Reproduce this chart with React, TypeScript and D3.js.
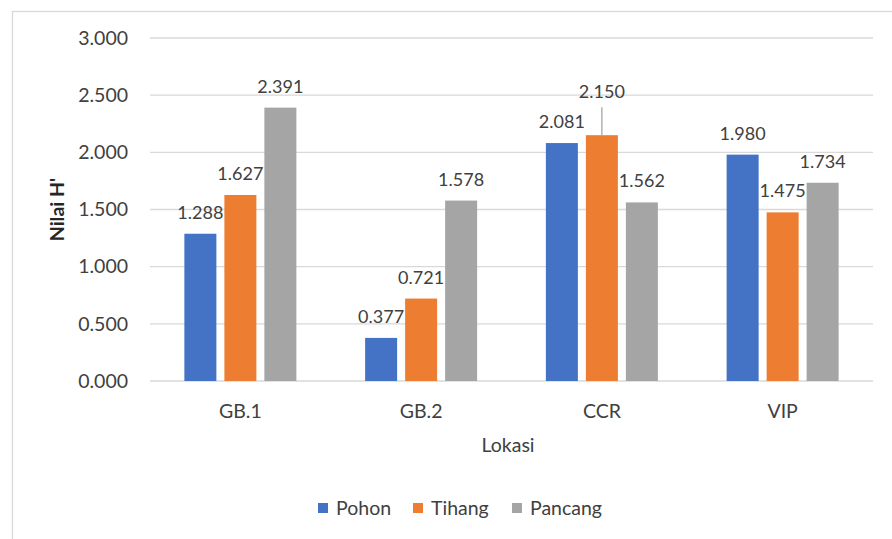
import React from "react";
import * as d3 from "d3";

const categories = ["GB.1", "GB.2", "CCR", "VIP"];
const seriesNames = ["Pohon", "Tihang", "Pancang"];
const pohon = [1.288, 0.377, 2.081, 1.98];
const tihang = [1.627, 0.721, 2.15, 1.475];
const pancang = [2.391, 1.578, 1.562, 1.734];
const yTicks = [0, 0.5, 1, 1.5, 2, 2.5, 3];
const colors = ["#4472C4", "#ED7D31", "#A5A5A5"];

const W = 892;
const H = 539;
const FONT = "Lato, 'Open Sans', sans-serif";
const TEXT = "#404040";

export default function App() {
  const values = [pohon, tihang, pancang];
  const x = d3.scaleBand<string>().domain(categories).range([150, 873]).padding(0);
  const inner = d3
    .scaleBand<string>()
    .domain(seriesNames)
    .range([-56, 56])
    .paddingInner(0.2)
    .paddingOuter(0);
  const y = d3.scaleLinear().domain([0, 3]).range([381, 38]);
  const fmt = d3.format(".3f");

  // labels that are lifted above their bar get a leader line
  const lifted: Record<string, number> = { "CCR-Tihang": 22 };

  return (
    <svg
      width={W}
      height={H}
      style={{ position: "absolute", left: 0, top: 0, display: "block" }}
      fontFamily={FONT}
    >
      <rect x={0} y={0} width={W} height={H} fill="#fff" />
      <rect x={12.5} y={11.5} width={W} height={H} fill="#fff" stroke="#D9D9D9" strokeWidth={1.3} />

      {yTicks.map((t) => (
        <g key={t}>
          <line x1={150} x2={873} y1={y(t)} y2={y(t)} stroke="#D9D9D9" strokeWidth={1.3} />
          <text
            x={128}
            y={y(t)}
            dy="0.35em"
            textAnchor="end"
            fontSize={19.5}
            fill={TEXT}
          >
            {fmt(t)}
          </text>
        </g>
      ))}

      {categories.map((c, ci) => {
        const cx = (x(c) ?? 0) + x.bandwidth() / 2;
        return (
          <g key={c}>
            {seriesNames.map((s, si) => {
              const v = values[si][ci];
              const bx = cx + (inner(s) ?? 0);
              const lift = lifted[`${c}-${s}`] ?? 0;
              const lx = bx + inner.bandwidth() / 2;
              const ly = y(v) - 15 - lift;
              return (
                <g key={s}>
                  <rect
                    x={bx}
                    y={y(v)}
                    width={inner.bandwidth()}
                    height={y(0) - y(v)}
                    fill={colors[si]}
                  />
                  {lift > 0 && (
                    <line x1={lx} x2={lx} y1={ly + 9} y2={y(v)} stroke="#A6A6A6" strokeWidth={1.3} />
                  )}
                  <text x={lx} y={ly} textAnchor="middle" fontSize={18} fill={TEXT}>
                    {fmt(v)}
                  </text>
                </g>
              );
            })}
            <text x={cx} y={411} dy="0.35em" textAnchor="middle" fontSize={19.5} fill={TEXT}>
              {c}
            </text>
          </g>
        );
      })}

      <text x={508} y={445} dy="0.35em" textAnchor="middle" fontSize={19.5} fill={TEXT}>
        Lokasi
      </text>
      <text
        transform={`translate(57,${y(1.5)}) rotate(-90)`}
        textAnchor="middle"
        dy="0.35em"
        fontSize={19.5}
        fontWeight="bold"
        fill="#262626"
      >
        Nilai H'
      </text>

      {seriesNames.map((s, i) => {
        const lx = [318, 413, 512][i];
        return (
          <g key={s}>
            <rect x={lx} y={503} width={10} height={10} fill={colors[i]} />
            <text x={lx + 18} y={508} dy="0.35em" fontSize={19.5} fill={TEXT}>
              {s}
            </text>
          </g>
        );
      })}
    </svg>
  );
}
